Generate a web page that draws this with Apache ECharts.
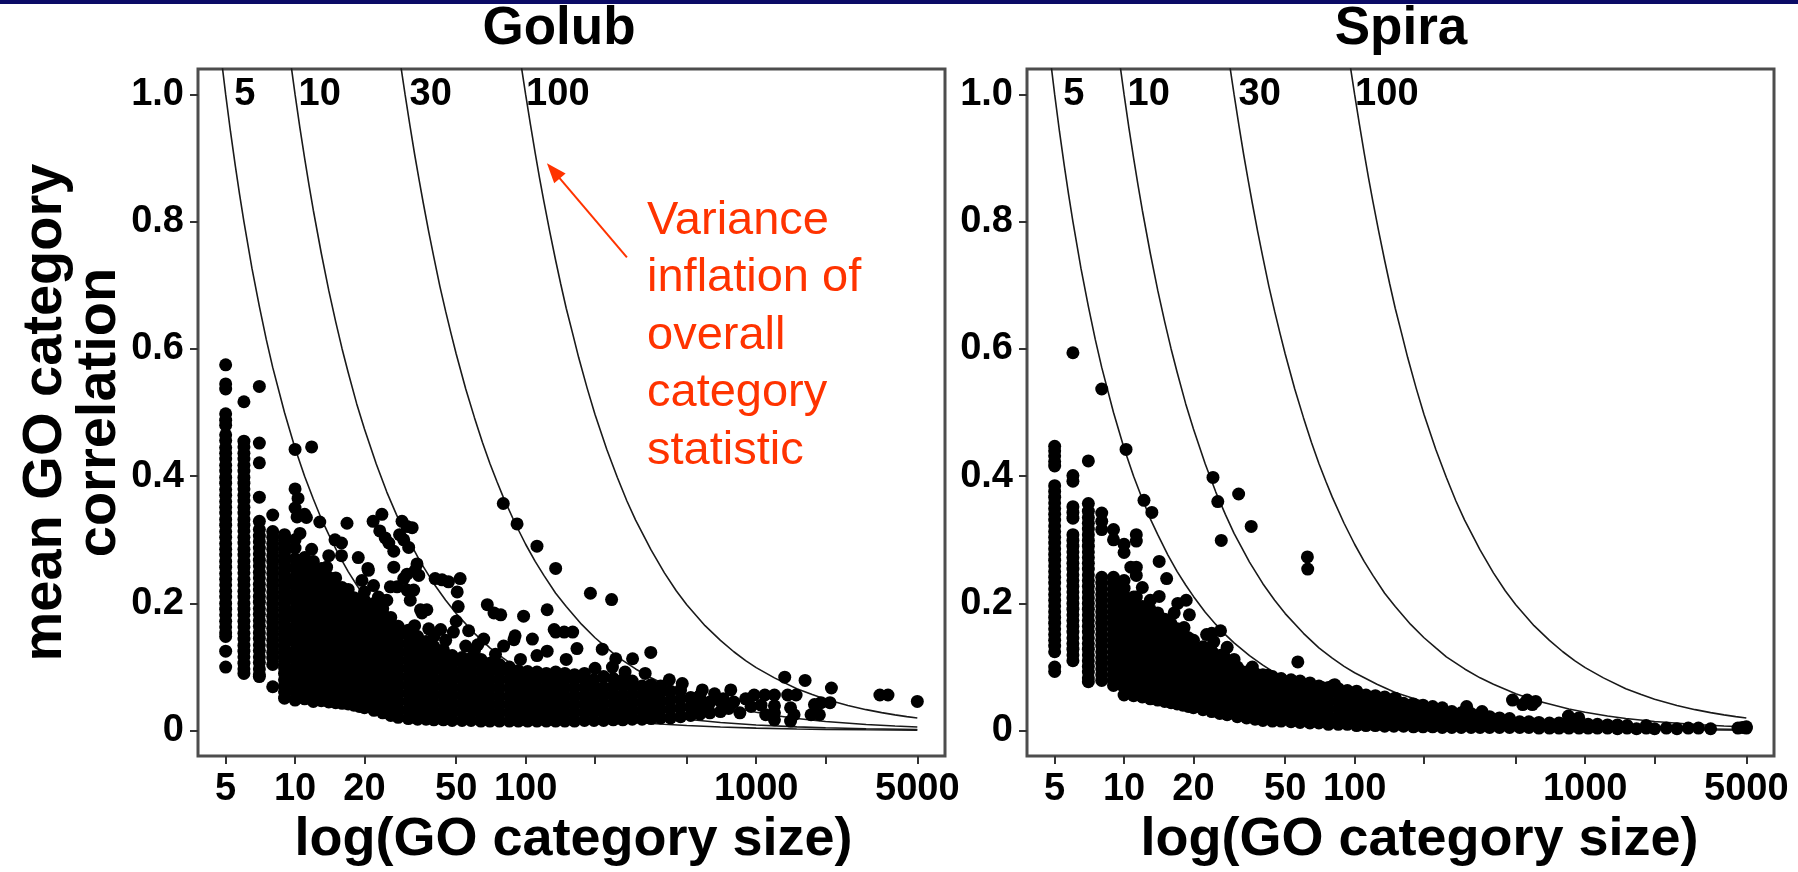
<!DOCTYPE html>
<html>
<head>
<meta charset="utf-8">
<script src="https://cdn.jsdelivr.net/npm/echarts@6/dist/echarts.min.js"></script>
<style>html,body{margin:0;padding:0;background:#fff}#chart{width:1798px;height:872px}</style>
</head>
<body>
<div id="chart"></div>
<script>
// ---------------- data ----------------
const panelTitles = ['Golub', 'Spira'];
const xTickValues = [5, 10, 20, 50, 100, 200, 500, 1000, 2000, 5000];
const xLabelValues = [5, 10, 20, 50, 100, 1000, 5000];
const yTickValues = [0, 0.2, 0.4, 0.6, 0.8, 1.0];
const curveSizes = [5, 10, 30, 100];

// variance-inflation reference curves
const curve5 = [[4.8,1.053],[5,1],[5.25,.941],[5.5,.889],[5.75,.842],[6,.8],[6.5,.727],[7,.667],[7.5,.615],[8,.571],[9,.5],[10,.444],[11,.4],[12,.364],[13,.333],[14,.308],[15.5,.276],[17,.25],[18.5,.229],[20,.211],[22.5,.186],[25,.167],[27.5,.151],[30,.138],[35,.118],[40,.103],[45,.091],[50,.082],[60,.068],[70,.058],[85,.048],[100,.04],[125,.032],[150,.027],[200,.02],[250,.016],[300,.013],[400,.01],[500,.008],[700,.0057],[1000,.004],[1500,.0027],[2000,.002],[3000,.0013],[5000,.0008]];
const curve10 = [[9.6,1.047],[10,1],[10.5,.947],[11,.9],[11.5,.857],[12,.818],[13,.75],[14,.692],[15,.643],[16,.6],[17,.563],[18.5,.514],[20,.474],[22.5,.419],[25,.375],[27.5,.34],[30,.31],[35,.265],[40,.231],[45,.205],[50,.184],[60,.153],[70,.13],[80,.114],[90,.101],[100,.091],[125,.073],[150,.06],[175,.052],[200,.045],[250,.036],[300,.03],[400,.0226],[500,.018],[700,.0129],[1000,.009],[1500,.006],[2000,.0045],[3000,.003],[5000,.0018]];
const curve30 = [[28.8,1.043],[30,1],[31.5,.951],[33,.906],[34.5,.866],[36,.829],[38,.784],[40,.744],[42.5,.698],[45,.659],[47.5,.624],[50,.592],[55,.537],[60,.492],[65,.453],[70,.42],[75,.392],[80,.367],[90,.326],[100,.293],[110,.266],[120,.244],[135,.216],[150,.195],[175,.167],[200,.146],[225,.13],[250,.116],[300,.097],[350,.083],[400,.073],[500,.058],[600,.048],[700,.042],[850,.034],[1000,.029],[1250,.023],[1500,.019],[2000,.0145],[3000,.0097],[4000,.0073],[5000,.0058]];
const curve100 = [[96,1.042],[100,1],[105,.952],[110,.908],[115,.868],[120,.832],[127,.786],[135,.739],[142,.702],[150,.664],[160,.624],[170,.586],[185,.538],[200,.497],[225,.442],[250,.398],[275,.361],[300,.331],[350,.284],[400,.248],[450,.22],[500,.198],[600,.165],[700,.142],[800,.124],[900,.11],[1000,.099],[1200,.083],[1500,.066],[1750,.057],[2000,.0495],[2500,.0396],[3000,.033],[3500,.0283],[4000,.0248],[4500,.022],[5000,.0198]];

// Golub: small categories (vertical stacks)  [size, [correlations]]
const golubColumns = [
 [5,[.575,.545,.537,.498,.488,.48,.465,.456,.445,.436,.427,.417,.408,.398,.389,.379,.37,.36,.351,.342,.332,.323,.313,.304,.294,.285,.276,.266,.257,.247,.238,.229,.219,.21,.2,.191,.182,.172,.163,.154,.148,.125,.1]],
 [6,[.517,.455,.446,.436,.427,.417,.408,.398,.389,.38,.37,.361,.351,.342,.332,.323,.314,.304,.295,.285,.276,.266,.257,.248,.238,.229,.219,.21,.2,.191,.182,.172,.163,.153,.144,.134,.125,.116,.106,.097,.09]],
 [7,[.541,.452,.421,.367,.329,.316,.306,.297,.287,.278,.268,.259,.249,.24,.23,.221,.211,.202,.192,.183,.173,.164,.154,.145,.135,.126,.116,.107,.097,.088,.085]],
 [8,[.339,.313,.304,.294,.285,.275,.266,.256,.247,.237,.228,.218,.209,.199,.19,.18,.171,.161,.152,.142,.133,.123,.114,.104,.069]],
 [9,[.308,.299,.289,.28,.27,.261,.251,.242,.232,.223,.213,.204,.194,.185,.175,.166,.156,.147,.137,.128,.118,.109,.099,.09,.08,.071,.061,.051]]
];
// Golub: dense cloud
const golubCloud = [
 [10,[.048,.061,.074,.087,.099,.112,.125,.139,.151,.163,.177,.19,.204,.215,.229,.241,.256,.27,.287]],
 [11,[.05,.064,.077,.09,.103,.116,.128,.142,.155,.168,.181,.194,.207,.22,.233,.246,.259,.272]],
 [12,[.046,.058,.071,.084,.097,.11,.123,.136,.149,.162,.175,.188,.201,.214,.227,.24,.253,.266]],
 [13,[.047,.06,.073,.086,.099,.112,.125,.138,.151,.164,.177,.19,.203,.216,.229,.242,.255]],
 [14,[.045,.058,.071,.085,.098,.111,.124,.137,.15,.163,.176,.189,.202,.215,.228,.241]],
 [15,[.044,.057,.07,.083,.096,.109,.122,.135,.148,.161,.174,.187,.2,.213,.226,.24]],
 [16,[.043,.056,.069,.082,.095,.108,.121,.134,.147,.16,.173,.186,.199,.212,.225]],
 [17,[.042,.055,.068,.081,.094,.107,.12,.133,.146,.159,.172,.185,.198,.211,.222]],
 [18,[.04,.053,.066,.079,.092,.105,.118,.131,.144,.157,.17,.183,.196,.209]],
 [19,[.038,.051,.064,.077,.09,.103,.116,.129,.142,.155,.168,.181,.194,.207]],
 [20,[.036,.049,.062,.075,.088,.101,.114,.127,.14,.153,.166,.179,.192,.205,.218]],
 [22,[.032,.045,.058,.071,.084,.097,.11,.123,.136,.149,.162,.175,.188,.2]],
 [24,[.028,.041,.054,.067,.08,.093,.106,.119,.132,.145,.158,.171,.184,.192]],
 [26,[.024,.037,.05,.063,.076,.089,.102,.115,.128,.141,.154,.167,.178]],
 [28,[.021,.034,.047,.06,.073,.086,.099,.112,.125,.138,.151,.164]],
 [31,[.019,.032,.045,.058,.071,.084,.097,.11,.123,.136,.149,.158]],
 [34,[.018,.031,.044,.057,.07,.083,.096,.109,.122,.135,.148]],
 [37,[.018,.03,.043,.056,.069,.082,.095,.108,.121,.134,.14]],
 [40,[.017,.03,.043,.056,.069,.082,.095,.108,.121,.132]],
 [44,[.017,.03,.043,.056,.069,.082,.095,.108,.12,.127]],
 [48,[.016,.029,.042,.055,.068,.081,.094,.107,.118]],
 [53,[.016,.029,.042,.055,.068,.081,.094,.107,.115]],
 [58,[.016,.029,.042,.055,.068,.081,.094,.106,.114]],
 [64,[.015,.028,.041,.054,.067,.08,.093,.106,.112]],
 [70,[.015,.028,.041,.054,.067,.08,.093,.106]],
 [77,[.015,.028,.041,.054,.067,.08,.093,.104]],
 [85,[.015,.028,.041,.054,.067,.08,.092,.1]],
 [93,[.015,.028,.041,.054,.067,.08,.094]],
 [102,[.015,.028,.041,.054,.067,.08,.093]],
 [112,[.015,.028,.041,.054,.067,.08,.092]],
 [123,[.015,.028,.041,.054,.067,.08,.09]],
 [135,[.015,.028,.041,.054,.067,.08,.092]],
 [148,[.015,.028,.041,.054,.067,.08,.09]],
 [163,[.015,.028,.041,.054,.067,.08,.088]],
 [180,[.016,.029,.042,.055,.068,.081,.09]],
 [198,[.016,.029,.042,.055,.068,.08]],
 [218,[.016,.029,.042,.055,.068,.085]],
 [240,[.017,.03,.043,.056,.069,.082]],
 [264,[.017,.03,.043,.056,.07,.08]],
 [290,[.018,.031,.044,.057,.07,.078]],
 [320,[.018,.031,.044,.057,.07]],
 [350,[.019,.032,.045,.058,.072]],
 [385,[.02,.033,.046,.06,.07]],
 [425,[.02,.034,.048,.062]],
 [470,[.022,.036,.05,.064]],
 [520,[.024,.038,.052]],
 [570,[.026,.04,.055]],
 [630,[.028,.045]],
 [700,[.03,.046]]
];
// Golub: scattered points
const golubOutliers = [[10,.442],[10,.38],[10.3,.365],[10,.35],[10.2,.336],[10.5,.31],[10,.3],
 [11.8,.446],[11,.34],[11.2,.335],[11.8,.285],
 [12.8,.328],[14,.275],[13.7,.257],[14.9,.3],[15.9,.295],[15.9,.275],[16.8,.326],[18.8,.272],[20.8,.252],[19.5,.236],[21.9,.228],[20.7,.255],
 [21.8,.329],[23.8,.34],[23.3,.314],[24.6,.303],[25.5,.295],[26.8,.282],[29.1,.329],[30.6,.321],[32.2,.319],[28.4,.308],[29.6,.3],[31.1,.288],[33.8,.262],[33.2,.252],[30.6,.246],[29.6,.239],[26.8,.257],[25.9,.226],[27.7,.226],[32.7,.221],[35,.19],[35.5,.185],[31.6,.205],[34.4,.244],[30.6,.221],[37.3,.19],[23,.21],[25,.205],
 [40.5,.239],[43.4,.237],[46.3,.234],[52,.239],[50.5,.218],[51,.195],[50,.172],[42.8,.159],[48.6,.155],[56.6,.157],[40,.148],[45,.142],[55,.133],[60,.126],
 [33,.165],[38,.16],[62,.135],[74,.12],[95,.112],
 [68.2,.198],[72.9,.185],[78,.182],[98,.18],[124,.19],[135,.155],[147,.155],[160,.155],[107,.144],[124,.125],[167,.129],[65.8,.144],[80.3,.133],[90,.149],[133,.159],[89,.143],[112,.118],[150,.112],
 [80,.357],[91.8,.325],[112,.29],[135,.255],[191,.216],[236,.206],[215,.128],[246,.113],[291,.113],[349,.123],[238,.1],[200,.098],[270,.092],[330,.09],[420,.08],
 [478,.074],[584,.064],[776,.064],[560,.052],[620,.04],[660,.058],[720,.05],[760,.035],[800,.045],[850,.028],[900,.05],[950,.038],
 [980,.056],[1090,.056],[1200,.056],[1370,.056],[1490,.056],[1200,.039],[1200,.028],[1200,.017],[1410,.036],[1460,.025],[1410,.015],[1330,.084],[1630,.079],[2120,.067],[1790,.041],[1910,.044],[2090,.044],[1730,.025],[1880,.025],[1050,.04],[1100,.025],
 [3440,.056],[3730,.056],[5000,.046]];

// Spira: small categories
const spiraColumns = [
 [5,[.447,.44,.432,.423,.416,.385,.376,.367,.358,.349,.34,.331,.322,.313,.304,.295,.286,.277,.268,.259,.25,.241,.232,.223,.214,.205,.196,.187,.178,.169,.16,.151,.142,.133,.124,.1,.093]],
 [6,[.594,.401,.392,.352,.343,.334,.308,.299,.29,.281,.272,.263,.254,.245,.236,.227,.218,.209,.2,.191,.182,.173,.164,.155,.146,.137,.128,.119,.11]],
 [7,[.424,.357,.345,.335,.326,.317,.308,.299,.29,.281,.272,.263,.254,.245,.236,.227,.218,.209,.2,.191,.182,.173,.164,.155,.146,.137,.128,.119,.11,.101,.092,.083,.077]],
 [8,[.537,.342,.329,.316,.241,.232,.223,.214,.205,.196,.187,.178,.169,.16,.151,.142,.133,.124,.115,.106,.097,.088,.079]],
 [9,[.316,.3,.241,.232,.223,.214,.205,.196,.187,.178,.169,.16,.151,.142,.133,.124,.115,.106,.097,.088,.079,.071]]
];
const spiraCloud = [
 [10,[.056,.068,.08,.092,.104,.116,.128,.14,.152,.164,.176,.188,.2,.212,.224,.236]],
 [11,[.055,.067,.079,.091,.103,.115,.127,.139,.151,.163,.175,.187,.199,.21]],
 [12,[.053,.065,.077,.089,.101,.113,.125,.137,.149,.161,.173,.185,.195]],
 [13,[.05,.062,.074,.086,.098,.11,.122,.134,.146,.158,.17,.182,.19]],
 [14,[.048,.06,.072,.084,.096,.108,.12,.132,.144,.156,.168,.18,.185]],
 [15,[.046,.058,.07,.082,.094,.106,.118,.13,.142,.154,.166,.175]],
 [16,[.044,.056,.068,.08,.092,.104,.116,.128,.14,.152,.162,.168]],
 [17,[.042,.054,.066,.078,.09,.102,.114,.126,.138,.15,.16]],
 [18,[.04,.052,.064,.076,.088,.1,.112,.124,.136,.148,.155]],
 [19,[.038,.05,.062,.074,.086,.098,.11,.122,.134,.146]],
 [20,[.036,.048,.06,.072,.084,.096,.108,.12,.132,.142]],
 [22,[.033,.045,.057,.069,.081,.093,.105,.117,.129,.132]],
 [24,[.03,.042,.054,.066,.078,.09,.102,.114,.125]],
 [26,[.027,.039,.051,.063,.075,.087,.099,.111,.118]],
 [28,[.025,.037,.049,.061,.073,.085,.097,.11]],
 [31,[.022,.034,.046,.058,.07,.082,.094,.1]],
 [34,[.02,.032,.044,.056,.068,.08,.092]],
 [37,[.018,.03,.042,.054,.066,.078,.09]],
 [40,[.016,.028,.04,.052,.064,.076,.088]],
 [44,[.015,.027,.039,.051,.063,.075,.085]],
 [48,[.015,.027,.039,.051,.063,.075,.082]],
 [53,[.014,.026,.038,.05,.062,.074,.08]],
 [58,[.013,.025,.037,.049,.061,.073,.078]],
 [64,[.012,.024,.036,.048,.06,.072,.075]],
 [70,[.012,.024,.036,.048,.06,.07]],
 [77,[.01,.022,.034,.046,.058,.068]],
 [85,[.01,.022,.034,.046,.058,.066]],
 [93,[.01,.022,.034,.046,.058,.063]],
 [102,[.008,.02,.032,.044,.056,.062]],
 [112,[.008,.02,.032,.044,.056]],
 [123,[.008,.02,.032,.044,.055]],
 [135,[.007,.019,.031,.043,.053]],
 [148,[.007,.019,.031,.043,.05]],
 [163,[.007,.019,.031,.043]],
 [180,[.006,.018,.03,.042]],
 [198,[.006,.018,.03,.04]],
 [218,[.006,.018,.03,.038]],
 [240,[.005,.017,.029,.036]],
 [264,[.005,.017,.03]],
 [290,[.005,.016,.028]],
 [320,[.005,.016,.027]],
 [350,[.005,.015,.024]],
 [385,[.005,.015,.022]],
 [425,[.005,.014,.02]],
 [470,[.005,.014,.019]],
 [520,[.005,.014]],
 [570,[.005,.014]],
 [630,[.004,.013]],
 [700,[.004,.012]],
 [770,[.004,.012]],
 [850,[.004,.011]],
 [940,[.004,.011]],
 [1030,[.004,.01]],
 [1130,[.004,.01]],
 [1250,[.004,.009]],
 [1380,[.003,.009]],
 [1520,[.004,.008]],
 [1670,[.003]],
 [1840,[.004,.008]],
 [2000,[.003]],
 [2250,[.004]],
 [2500,[.003]],
 [2800,[.004]],
 [3100,[.004]],
 [3500,[.003]],
 [4600,[.004]],
 [4800,[.005]],
 [5000,[.004,.006]]
];
const spiraOutliers = [[10.2,.442],[12.2,.362],[13.2,.343],[10,.293],[10,.28],[11.3,.308],[11.3,.298],[11.3,.257],[10.7,.257],[11.3,.244],[11.3,.21],[14.2,.266],[15.3,.239],[14.2,.211],[17.1,.2],[18.6,.205],[19.2,.182],[18.2,.162],[16.5,.185],[12,.225],[13,.205],
 [24.3,.398],[25.5,.36],[31.4,.372],[35.6,.321],[26.4,.299],[62.4,.273],[62.6,.254],[56.7,.108],
 [22.8,.151],[24,.153],[26.2,.157],[22.3,.13],[24.5,.14],[28,.131],[27,.12],[30,.112],[28.6,.085],[32.3,.093],[42,.087],[36,.1],[57.7,.069],[72,.068],[82,.072],[74,.066],[80.8,.071],
 [102,.054],[119,.051],[150,.051],[177,.041],[306,.038],[357,.03],[484,.048],[536,.041],[590,.041],[610,.046],[560,.048],[846,.023],[938,.02]];

// ---------------- chart ----------------
const FONT = '"Liberation Sans", Arial, Helvetica, sans-serif';
const X_MIN = 3.793, X_MAX = 6592;
const Y_MIN = -0.04, Y_MAX = 1.04;
const grids = [
  {left: 198, top: 69, width: 747, height: 700},
  {left: 1027, top: 69, width: 747, height: 700}
];
const curves = [curve5, curve10, curve30, curve100];
const curveLabelGap = [8, 3, 4, 0];

function expand(cols) {
  const out = [];
  cols.forEach(function (c) { c[1].forEach(function (y) { out.push([c[0], y]); }); });
  return out;
}
const panelPoints = [
  expand(golubColumns).concat(expand(golubCloud), golubOutliers),
  expand(spiraColumns).concat(expand(spiraCloud), spiraOutliers)
];

const tickLine = {color: '#333', width: 2};
const tickLabel = {fontSize: 38, fontWeight: 'bold', color: '#000', fontFamily: FONT};
const nameStyle = {fontSize: 54, fontWeight: 'bold', color: '#000', fontFamily: FONT};

const xAxis = [], yAxis = [], series = [];
grids.forEach(function (g, i) {
  xAxis.push({gridIndex: i, type: 'log', logBase: 10, min: X_MIN, max: X_MAX, position: 'top', show: false});
});
grids.forEach(function (g, i) {
  xAxis.push({
    gridIndex: i, type: 'value', position: 'bottom',
    min: Math.log10(X_MIN), max: Math.log10(X_MAX),
    axisLine: {show: false}, splitLine: {show: false},
    axisTick: {show: true, length: 8, lineStyle: tickLine, customValues: xTickValues.map(Math.log10)},
    axisLabel: Object.assign({margin: 14, customValues: xLabelValues.map(Math.log10),
      formatter: function (v) { return String(Math.round(Math.pow(10, v))); }}, tickLabel),
    name: 'log(GO category size)', nameLocation: 'middle', nameGap: 36,
    nameTextStyle: Object.assign({padding: i === 0 ? [0, 0, 0, 4] : [0, 0, 0, 38]}, nameStyle)
  });
  yAxis.push({
    gridIndex: i, type: 'value', min: Y_MIN, max: Y_MAX,
    axisLine: {show: false}, splitLine: {show: false},
    axisTick: {show: true, length: 8, lineStyle: tickLine, customValues: yTickValues},
    axisLabel: Object.assign({margin: 14, customValues: yTickValues,
      formatter: function (v) { return v === 0 ? '0' : v.toFixed(1); }}, tickLabel),
    name: i === 0 ? 'mean GO category\ncorrelation' : '',
    nameLocation: 'middle', nameRotate: 90, nameGap: 66,
    nameTextStyle: Object.assign({lineHeight: 54}, nameStyle, {fontSize: 56})
  });
  curves.forEach(function (c, k) {
    const s = {
      type: 'line', name: 'VIF ' + curveSizes[k], xAxisIndex: i, yAxisIndex: i,
      data: c, showSymbol: false, smooth: false, clip: true, silent: true,
      lineStyle: {color: '#1a1a1a', width: 1.6}, z: 2,
      markPoint: {
        silent: true, symbol: 'circle', symbolSize: 1, itemStyle: {color: 'rgba(0,0,0,0)'},
        label: Object.assign({show: true, position: 'right', distance: curveLabelGap[k],
          formatter: String(curveSizes[k])}, tickLabel),
        data: [{coord: [curveSizes[k], 1.0]}]
      }
    };
    if (i === 0 && k === 3) {
      s.markLine = {
        silent: true, symbol: ['none', 'triangle'], symbolSize: [15, 20],
        lineStyle: {color: '#ff3300', width: 2, type: 'solid'}, label: {show: false},
        data: [[{coord: [275, 0.744]}, {coord: [132, 0.88]}]]
      };
    }
    series.push(s);
  });
  series.push({
    type: 'scatter', name: panelTitles[i], xAxisIndex: i, yAxisIndex: i,
    data: panelPoints[i], symbol: 'circle', symbolSize: 13, silent: true,
    itemStyle: {color: '#000', opacity: 1}, z: 3
  });
});

const chart = echarts.init(document.getElementById('chart'), null, {renderer: 'canvas'});
chart.setOption({
  animation: false,
  backgroundColor: '#fff',
  grid: grids.map(function (g) {
    return Object.assign({show: true, borderColor: '#4d4d4d', borderWidth: 3, backgroundColor: 'rgba(0,0,0,0)'}, g);
  }),
  xAxis: xAxis,
  yAxis: yAxis,
  series: series,
  graphic: [
    {type: 'rect', shape: {x: 0, y: 0, width: 1798, height: 4}, style: {fill: '#0b0b66'}},
    {type: 'text', x: 559, y: 29, style: {text: panelTitles[0], fill: '#000', font: 'bold 53px ' + FONT,
      align: 'center', verticalAlign: 'middle', textAlign: 'center', textVerticalAlign: 'middle'}},
    {type: 'text', x: 1401, y: 29, style: {text: panelTitles[1], fill: '#000', font: 'bold 53px ' + FONT,
      align: 'center', verticalAlign: 'middle', textAlign: 'center', textVerticalAlign: 'middle'}},
    {type: 'text', x: 647, y: 192, style: {text: 'Variance\ninflation of\noverall\ncategory\nstatistic',
      fill: '#ff3300', font: '47px ' + FONT, lineHeight: 57.5,
      align: 'left', verticalAlign: 'top', textAlign: 'left', textVerticalAlign: 'top'}}
  ]
});
</script>
</body>
</html>
